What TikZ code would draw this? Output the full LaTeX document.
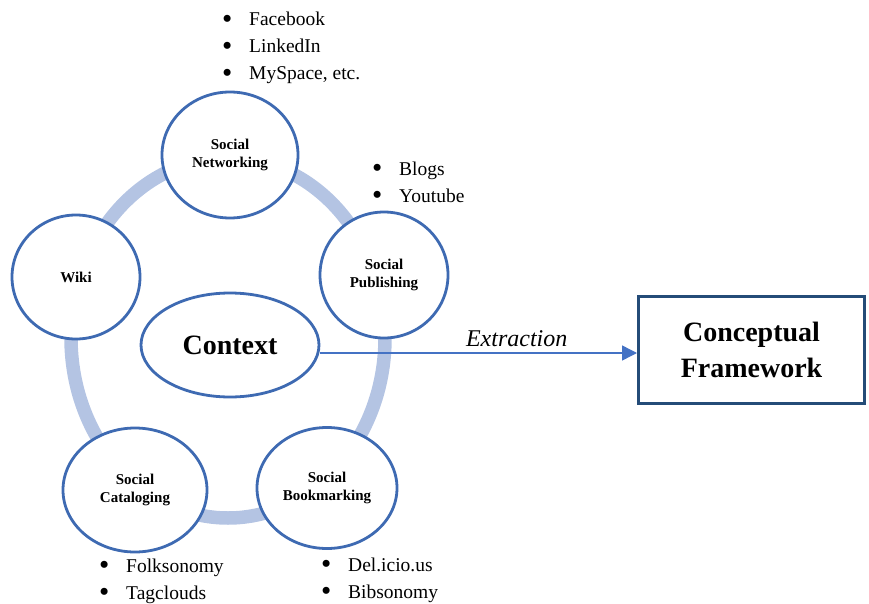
\documentclass[tikz,border=0pt]{standalone}
\usepackage{fontspec}
\setmainfont{Liberation Serif}
\usetikzlibrary{shapes.geometric,arrows.meta}
\definecolor{ringblue}{RGB}{180,196,227}
\definecolor{circblue}{RGB}{62,106,178}
\definecolor{arrowblue}{RGB}{68,114,196}
\definecolor{boxblue}{RGB}{36,76,120}

\begin{document}
\begin{tikzpicture}[x=1pt,y=-1pt,node distance=1.5cm,auto]
			\tikzstyle{site} = [ellipse, draw=circblue, line width=2.8pt, fill=white, inner sep=0pt, align=center, font=\bfseries\fontsize{15}{18}\selectfont];
			\tikzstyle{frame} = [rectangle, draw=boxblue, line width=3pt, fill=white, minimum width=226pt, minimum height=107pt, align=center, font=\bfseries\fontsize{28}{36}\selectfont];
			\tikzstyle{items} = [anchor=base west, inner sep=0pt, align=left, font=\fontsize{19.5}{27}\selectfont];
			\newcommand{\itm}{\makebox[27pt][l]{\raisebox{-0.25ex}{\scalebox{1.5}{\textbullet}}}}
			\useasboundingbox (0,0) rectangle (869,604);

			% ring behind the sites
			\draw [ringblue, line width=13.5pt] (228,338) ellipse [x radius=157, y radius=180];

			\draw node [site, minimum width=136pt, minimum height=126pt] (net) at (230,155) {Social\\Networking};
			\draw node [site, minimum width=128pt, minimum height=126pt] (pub) at (384,275) {Social\\Publishing};
			\draw node [site, minimum width=140pt, minimum height=121pt] (book) at (327,488) {Social\\Bookmarking};
			\draw node [site, minimum width=144pt, minimum height=124pt] (cat) at (135,490) {Social\\Cataloging};
			\draw node [site, minimum width=128pt, minimum height=124pt] (wiki) at (76,277) {Wiki};
			\draw node [site, minimum width=178pt, minimum height=104pt, font=\bfseries\fontsize{28}{32}\selectfont] (context) at (230,345) {Context};
			\draw node [frame] (cf) at (751.5,350) {Conceptual\\Framework};

			% examples (base = last line)
			\draw node [items] (netex) at (222,80) {\itm Facebook\\\itm LinkedIn\\\itm MySpace, etc.};
			\draw node [items] (pubex) at (372,202) {\itm Blogs\\\itm Youtube};
			\draw node [items] (catex) at (99,599) {\itm Folksonomy\\\itm Tagclouds};
			\draw node [items] (bookex) at (321,598) {\itm Del.icio.us\\\itm Bibsonomy};

			\draw [draw=arrowblue, line width=1.4pt, -{Triangle[length=15pt,width=15pt]}] ([yshift=-8pt]context.east) -- ([yshift=-8pt]context.east -| cf.west) node [pos=0.62, above=2pt, font=\itshape\fontsize{24}{28}\selectfont] {Extraction};
		\end{tikzpicture}
\end{document}
